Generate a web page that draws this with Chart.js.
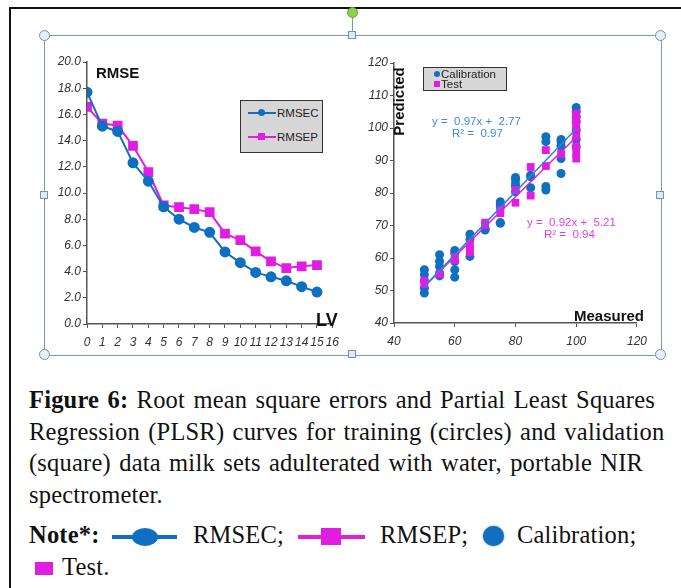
<!DOCTYPE html>
<html>
<head>
<meta charset="utf-8">
<script src="https://cdn.jsdelivr.net/npm/chart.js@4.4.1/dist/chart.umd.min.js"></script>
<style>
    html, body { margin: 0; padding: 0; background: #fff; }
    body { width: 681px; height: 588px; position: relative; overflow: hidden; font-family: 'Liberation Sans', Arial, sans-serif; }
    .abs { position: absolute; }
    .card { left: 9px; top: 7px; width: 700px; height: 620px; border-left: 2px solid #111; border-top: 2px solid #111; }
    .frame { left: 44px; top: 35px; width: 616px; height: 319px; border: 1px solid #8195ab; }
    .stem { left: 352px; top: 14px; width: 1px; height: 21px; background: #8195ab; }
    .hc { width: 9px; height: 9px; border-radius: 50%; border: 1px solid #7d90a6; background: #e4f1f8; }
    .hs { width: 6px; height: 6px; border: 1px solid #7d90a6; background: #d9ecf7; }
    .hg { width: 9px; height: 9px; border-radius: 50%; border: 1px solid #6a9a3a; background: #8ad24a; }
    canvas { position: absolute; }
    .lbl { font-weight: bold; color: #111; white-space: nowrap; }
    .legend { background: #d6d6d6; border: 1.5px solid #333; box-sizing: border-box; font-size: 11.5px; color: #222; }
    .row { position: absolute; height: 12px; line-height: 12px; white-space: nowrap; }
    .eq { font-size: 11.5px; white-space: pre; line-height: 12px; }
    .serif { font-family: 'Liberation Serif', serif; font-size: 24.5px; line-height: 31.5px; color: #111; white-space: nowrap; word-spacing: 2px; letter-spacing: 0.2px; }
    .caption { left: 29px; top: 384px; }
</style>
</head>
<body>
<div class="abs card"></div>
<div class="abs frame"></div>
<div class="abs stem"></div>
<div class="abs hg" style="left:347px;top:7px"></div>
<div class="abs hc" style="left:39px;top:30px"></div>
<div class="abs hs" style="left:348px;top:31px"></div>
<div class="abs hc" style="left:655px;top:30px"></div>
<div class="abs hs" style="left:40px;top:191px"></div>
<div class="abs hs" style="left:656px;top:191px"></div>
<div class="abs hc" style="left:39px;top:349px"></div>
<div class="abs hs" style="left:348px;top:350px"></div>
<div class="abs hc" style="left:655px;top:349px"></div>

<canvas id="rmse" width="300" height="312" style="left:46px;top:40px"></canvas>
<canvas id="plsr" width="300" height="312" style="left:354px;top:40px"></canvas>

<div class="abs lbl" style="left:96px;top:64px;font-size:15px">RMSE</div>
<div class="abs lbl" style="left:316px;top:310px;font-size:18px">LV</div>

<div class="abs legend" style="left:240px;top:100px;width:83px;height:53px">
    <div class="row" style="left:7px;top:6px">
        <span class="abs" style="left:0;top:5px;width:28px;height:2px;background:#0f6fc0"></span>
        <span class="abs" style="left:10px;top:2px;width:7px;height:7px;border-radius:50%;background:#0f6fc0"></span>
        <span class="abs" style="left:29px;top:0">RMSEC</span>
    </div>
    <div class="row" style="left:7px;top:30px">
        <span class="abs" style="left:0;top:5px;width:28px;height:2px;background:#e21de2"></span>
        <span class="abs" style="left:10px;top:2px;width:7px;height:7px;background:#e21de2"></span>
        <span class="abs" style="left:29px;top:0">RMSEP</span>
    </div>
</div>

<div class="abs lbl" style="left:364px;top:93px;font-size:15px;transform:rotate(-90deg);transform-origin:center">Predicted</div>
<div class="abs lbl" style="left:574px;top:307px;font-size:15px">Measured</div>

<div class="abs legend" style="left:423px;top:67px;width:84px;height:24px">
    <div class="row" style="left:10px;top:0px">
        <span class="abs" style="left:0;top:3px;width:6px;height:6px;border-radius:50%;background:#0f6fc0"></span>
        <span class="abs" style="left:7px;top:0">Calibration</span>
    </div>
    <div class="row" style="left:10px;top:10px">
        <span class="abs" style="left:0;top:3px;width:6px;height:6px;background:#e21de2"></span>
        <span class="abs" style="left:7px;top:0">Test</span>
    </div>
</div>

<div class="abs eq" style="left:432px;top:115px;color:#3b8ad4">y =  0.97x +  2.77</div>
<div class="abs eq" style="left:452px;top:127px;color:#3b8ad4">R² =  0.97</div>
<div class="abs eq" style="left:527px;top:216px;color:#e23ee2">y =  0.92x +  5.21</div>
<div class="abs eq" style="left:544px;top:228px;color:#e23ee2">R² =  0.94</div>

<div class="abs serif caption"><b>Figure 6:</b> Root mean square errors and Partial Least Squares<br>Regression (PLSR) curves for training (circles) and validation<br>(square) data milk sets adulterated with water, portable NIR<br>spectrometer.</div>

<div class="abs serif" style="left:29px;top:519px"><b>Note*:</b></div>
<div class="abs" style="left:112px;top:535px;width:65px;height:4px;background:#0f6fc0"></div>
<div class="abs" style="left:132px;top:528px;width:26px;height:18px;border-radius:50%;background:#0f6fc0"></div>
<div class="abs serif" style="left:193px;top:519px">RMSEC;</div>
<div class="abs" style="left:298px;top:535px;width:67px;height:4px;background:#e21de2"></div>
<div class="abs" style="left:321px;top:528px;width:20px;height:17px;background:#e21de2"></div>
<div class="abs serif" style="left:380px;top:519px">RMSEP;</div>
<div class="abs" style="left:483px;top:526px;width:21px;height:20px;border-radius:50%;background:#0f6fc0;box-shadow:0 0 2px #666"></div>
<div class="abs serif" style="left:517px;top:519px">Calibration;</div>
<div class="abs" style="left:35px;top:562px;width:18px;height:13px;background:#e21de2"></div>
<div class="abs serif" style="left:62px;top:551px">Test.</div>

<script>
const BLUE = '#0f6fc0';
const MAGENTA = '#e21de2';

// RMSE vs number of latent variables
const lvs = [0, 1, 2, 3, 4, 5, 6, 7, 8, 9, 10, 11, 12, 13, 14, 15];
const rmsec = [17.7, 15.1, 14.7, 12.3, 10.9, 8.95, 8.0, 7.37, 7.0, 5.5, 4.68, 3.94, 3.6, 3.3, 2.85, 2.44];
const rmsep = [16.57, 15.3, 15.15, 13.6, 11.6, 9.05, 8.92, 8.77, 8.54, 6.9, 6.4, 5.54, 4.78, 4.27, 4.4, 4.5];

// PLSR measured vs predicted
const calMeasured = [
    50, 50, 50, 50, 50,
    55, 55, 55, 55, 55,
    60, 60, 60, 60, 60,
    65, 65, 65,
    70, 70,
    75, 75, 75, 75, 75,
    80, 80, 80, 80, 80,
    85, 85, 85,
    90, 90, 90, 90,
    95, 95, 95, 95, 95,
    100, 100, 100, 100, 100, 100, 100,
];
const calPredicted = [
    56.4, 54.9, 53.0, 50.7, 49.2,
    61.0, 59.0, 57.4, 55.3, 54.5,
    62.3, 61.5, 58.9, 56.4, 54.1,
    67.3, 65.6, 60.5,
    69.0, 68.6,
    77.3, 76.6, 75.8, 70.9, 70.7,
    84.8, 84.0, 82.8, 82.0, 80.4,
    85.5, 85.0, 81.6,
    97.3, 95.8, 82.0, 80.9,
    96.5, 95.8, 94.4, 90.6, 86.0,
    106.3, 105.0, 103.4, 101.9, 99.3, 96.5, 94.2,
];
const testMeasured = [50, 50, 55, 60, 60, 65, 65, 65, 70, 70, 75, 75, 80, 80, 85, 85, 90, 90, 95, 100, 100, 100, 100, 100, 100, 100, 100];
const testPredicted = [53.0, 52.0, 55.0, 60.3, 59.4, 64.3, 62.7, 61.7, 70.9, 70.2, 73.8, 74.8, 80.9, 77.0, 88.0, 79.2, 93.2, 88.3, 92.0, 104.4, 102.9, 101.4, 99.8, 97.3, 94.4, 92.2, 90.6];

// regression lines (slope, intercept) over the measured range
const fitRange = [50, 100];
const calFit = [0.97, 2.77];
const testFit = [0.92, 5.21];

const pts = (xs, ys) => xs.map((x, i) => ({ x, y: ys[i] }));
const fitLine = ([a, b]) => fitRange.map((x) => ({ x, y: a * x + b }));

const tickFont = { family: "'Liberation Sans', Arial, sans-serif", size: 12, style: 'italic' };
const axisColor = '#555';

const axis = (min, max, step, fitSize, isY, fmt) => ({
    type: 'linear',
    min,
    max,
    afterFit: (scale) => {
        if (isY) scale.width = fitSize; else scale.height = fitSize;
    },
    grid: { drawOnChartArea: false, drawTicks: true, tickLength: 4, color: axisColor },
    border: { display: true, color: axisColor, width: 1.5 },
    ticks: {
        stepSize: step,
        autoSkip: false,
        maxRotation: 0,
        color: '#333',
        font: tickFont,
        padding: isY ? 2 : 7,
        callback: fmt || ((v) => v),
    },
});

const chartDefaults = {
    responsive: false,
    animation: false,
    plugins: { legend: { display: false }, tooltip: { enabled: false } },
};

new Chart(document.getElementById('rmse'), {
    type: 'line',
    data: {
        datasets: [
            {
                data: pts(lvs, rmsec),
                borderColor: BLUE,
                backgroundColor: BLUE,
                borderWidth: 2,
                pointStyle: 'circle',
                pointRadius: 4.5,
            },
            {
                data: pts(lvs, rmsep),
                borderColor: MAGENTA,
                backgroundColor: MAGENTA,
                borderWidth: 2,
                pointStyle: 'rect',
                pointRadius: 5.5,
            },
        ],
    },
    options: {
        ...chartDefaults,
        layout: { padding: { left: 0, top: 22, right: 13, bottom: 0 } },
        scales: {
            x: axis(0, 16, 1, 28, false),
            y: axis(0, 20, 2, 41, true, (v) => v.toFixed(1)),
        },
    },
});

new Chart(document.getElementById('plsr'), {
    type: 'scatter',
    data: {
        datasets: [
            {
                type: 'line',
                data: fitLine(calFit),
                borderColor: '#2a86d6',
                borderWidth: 1.5,
                pointRadius: 0,
            },
            {
                type: 'line',
                data: fitLine(testFit),
                borderColor: MAGENTA,
                borderWidth: 1.5,
                pointRadius: 0,
            },
            {
                data: pts(testMeasured, testPredicted),
                backgroundColor: MAGENTA,
                borderWidth: 0,
                pointStyle: 'rect',
                pointRadius: 5.5,
            },
            {
                data: pts(calMeasured, calPredicted),
                backgroundColor: BLUE,
                borderWidth: 0,
                pointStyle: 'circle',
                pointRadius: 4.5,
            },
        ],
    },
    options: {
        ...chartDefaults,
        layout: { padding: { left: 0, top: 23, right: 14, bottom: 0 } },
        scales: {
            x: axis(40, 120, 20, 29, false),
            y: axis(40, 120, 10, 40, true),
        },
    },
});
</script>
</body>
</html>
